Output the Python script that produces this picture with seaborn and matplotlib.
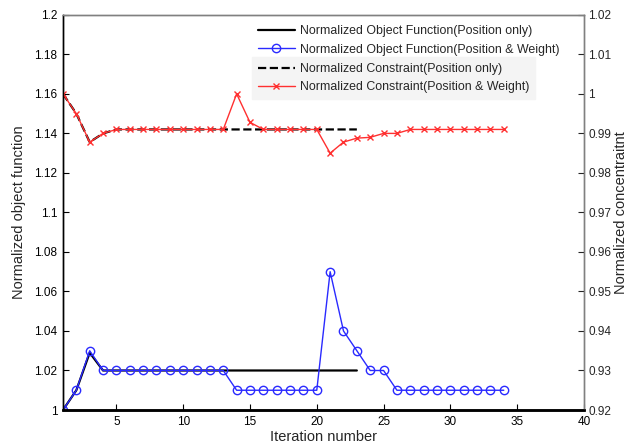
import matplotlib
matplotlib.use('Agg')
import matplotlib.pyplot as plt
import pandas as pd
import numpy as np
import seaborn as sns

# iteration numbers
it_obj_pos = list(range(1, 24))
it_obj_pw = list(range(1, 35))
it_con_pos = list(range(1, 24))
it_con_pw = list(range(1, 35))

# normalized object function (left axis)
obj_pos = [1.0, 1.01, 1.029] + [1.02] * 20
obj_pw = [1.0, 1.01, 1.03] + [1.02] * 10 + [1.01] * 7 + [1.07, 1.04, 1.03, 1.02, 1.02] + [1.01] * 9

# normalized constraint (right axis)
con_pos = [1.0, 0.995, 0.9878, 0.990] + [0.991] * 19
con_pw = ([1.0, 0.995, 0.9878, 0.990] + [0.991] * 9 + [1.0, 0.9928] + [0.991] * 5
          + [0.985, 0.9878, 0.9888, 0.989, 0.990, 0.990] + [0.991] * 8)

lab_obj_pos = 'Normalized Object Function(Position only)'
lab_obj_pw = 'Normalized Object Function(Position & Weight)'
lab_con_pos = 'Normalized Constraint(Position only)'
lab_con_pw = 'Normalized Constraint(Position & Weight)'

df_obj_pos = pd.DataFrame({'it': it_obj_pos, 'val': obj_pos})
df_obj_pw = pd.DataFrame({'it': it_obj_pw, 'val': obj_pw})
df_con_pos = pd.DataFrame({'it': it_con_pos, 'val': con_pos})
df_con_pw = pd.DataFrame({'it': it_con_pw, 'val': con_pw})

sns.set_style('ticks', {'xtick.direction': 'in', 'ytick.direction': 'in'})
plt.rcParams['font.family'] = ['Liberation Sans', 'DejaVu Sans']

fig = plt.figure(figsize=(6.4, 4.46), dpi=100)
ax = fig.add_axes([0.0984, 0.0807, 0.814, 0.886])
ax2 = ax.twinx()

sns.lineplot(x='it', y='val', data=df_obj_pos, ax=ax, color='black', lw=1.6, label=lab_obj_pos)
sns.lineplot(x='it', y='val', data=df_obj_pw, ax=ax, color='#2a2aff', lw=1.0, marker='o',
             markersize=6, markerfacecolor='none', markeredgecolor='#2a2aff', markeredgewidth=1.0,
             label=lab_obj_pw)
sns.lineplot(x='it', y='val', data=df_con_pos, ax=ax2, color='black', lw=1.6, linestyle='--',
             label=lab_con_pos)
sns.lineplot(x='it', y='val', data=df_con_pw, ax=ax2, color='#ff3030', lw=1.0, marker='x',
             markersize=4, markeredgecolor='#ff3030', markeredgewidth=1.0, label=lab_con_pw)

ax.set_xlim(1, 40)
ax.set_ylim(1, 1.2)
ax2.set_ylim(0.92, 1.02)
ax.set_xticks(np.arange(5, 41, 5))
yt = np.round(np.arange(1.0, 1.2001, 0.02), 2)
ax.set_yticks(yt)
ax.set_yticklabels(['%g' % v for v in yt])
yt2 = np.round(np.arange(0.92, 1.0201, 0.01), 2)
ax2.set_yticks(yt2)
ax2.set_yticklabels(['%g' % v for v in yt2])

ax.tick_params(axis='both', direction='in', length=4, labelsize=8.5, width=0.8, colors='black', pad=4)
ax.tick_params(axis='y', right=False)
ax2.tick_params(axis='y', direction='in', length=4, labelsize=8.5, width=0.8, pad=3)

ax.set_xlabel('Iteration number', fontsize=10.5, labelpad=2)
ax.set_ylabel('Normalized object function', fontsize=10.5, labelpad=6)
ax2.set_ylabel('Normalized concentraitnt', fontsize=10.5, labelpad=2)

for a in (ax, ax2):
    for s in a.spines.values():
        s.set_visible(True)
        s.set_linewidth(1.0)
    a.spines['top'].set_color('#808080')
    a.spines['right'].set_color('#808080')
    a.spines['left'].set_color('black')
    a.spines['bottom'].set_color('black')
    a.spines['bottom'].set_linewidth(1.8)
    a.grid(False)

leg_kw = dict(loc='center left', bbox_transform=fig.transFigure, fontsize=8.9, borderaxespad=0,
              handlelength=3.0, handletextpad=0.4, borderpad=0.45, labelspacing=0.5)
ax.legend(bbox_to_anchor=(252 / 640, 1 - 40.5 / 446), frameon=False, **leg_kw)
ax2.legend(bbox_to_anchor=(252 / 640, 1 - 78 / 446), frameon=True, fancybox=False,
           facecolor='#f4f4f4', edgecolor='#f4f4f4', framealpha=1, **leg_kw)

fig.savefig('out.png', dpi=100)
